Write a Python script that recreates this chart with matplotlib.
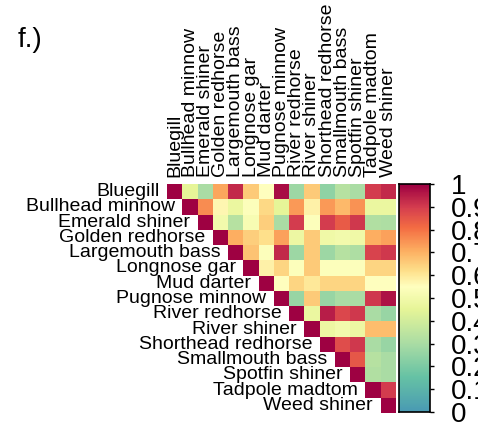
import numpy as np
import matplotlib
matplotlib.use("Agg")
import matplotlib.pyplot as plt
from matplotlib.colors import LinearSegmentedColormap

plt.rcParams['font.family'] = ['Liberation Sans', 'DejaVu Sans']

species = ["Bluegill", "Bullhead minnow", "Emerald shiner", "Golden redhorse",
           "Largemouth bass", "Longnose gar", "Mud darter", "Pugnose minnow",
           "River redhorse", "River shiner", "Shorthead redhorse",
           "Smallmouth bass", "Spotfin shiner", "Tadpole madtom", "Weed shiner"]

# upper-triangle values (row i, columns i+1 .. end)
r0 = [0.45, 0.30, 0.72, 0.93, 0.66, 0.55, 0.98, 0.27, 0.66, 0.24, 0.33, 0.30, 0.90, 0.93]
r1 = [0.76, 0.57, 0.47, 0.54, 0.63, 0.45, 0.74, 0.58, 0.74, 0.69, 0.75, 0.47, 0.47]
r2 = [0.50, 0.33, 0.52, 0.65, 0.30, 0.90, 0.54, 0.90, 0.84, 0.91, 0.32, 0.31]
r3 = [0.71, 0.65, 0.62, 0.73, 0.48, 0.66, 0.49, 0.50, 0.49, 0.71, 0.73]
r4 = [0.67, 0.54, 0.93, 0.27, 0.66, 0.27, 0.33, 0.31, 0.89, 0.91]
r5 = [0.58, 0.64, 0.54, 0.66, 0.54, 0.54, 0.54, 0.64, 0.64]
r6 = [0.55, 0.64, 0.60, 0.64, 0.64, 0.64, 0.55, 0.55]
r7 = [0.26, 0.66, 0.26, 0.30, 0.30, 0.91, 0.97]
r8 = [0.47, 0.95, 0.88, 0.91, 0.30, 0.26]
r9 = [0.48, 0.50, 0.48, 0.68, 0.68]
r10 = [0.87, 0.91, 0.30, 0.26]
r11 = [0.85, 0.33, 0.30]
r12 = [0.32, 0.30]
r13 = [0.90]
upper_rows = [r0, r1, r2, r3, r4, r5, r6, r7, r8, r9, r10, r11, r12, r13]

cbar_ticks = [0, 0.1, 0.2, 0.3, 0.4, 0.5, 0.6, 0.7, 0.8, 0.9, 1]
cbar_labels = ["0", "0.1", "0.2", "0.3", "0.4", "0.5", "0.6", "0.7", "0.8", "0.9", "1"]

n = len(species)
M = np.full((n, n), np.nan)
for i in range(n):
    M[i, i] = 1.0
    for k, v in enumerate(upper_rows[i] if i < len(upper_rows) else []):
        M[i, i + 1 + k] = v
Mm = np.ma.masked_invalid(M)

cmap = LinearSegmentedColormap.from_list("spec", [
    (0.0, "#4a9bb3"), (0.15, "#66c2a5"), (0.30, "#abdda4"), (0.45, "#e6f598"),
    (0.55, "#ffffbf"), (0.62, "#fee08b"), (0.71, "#fdae61"), (0.81, "#f46d43"),
    (0.90, "#d53e4f"), (1.0, "#9e0142")])

W, H = 478, 426
fig = plt.figure(figsize=(W / 100, H / 100), dpi=100)

x0, x1 = 167.3, 395.7
y0, y1 = 184.0, 413.0
ax = fig.add_axes([x0 / W, 1 - y1 / H, (x1 - x0) / W, (y1 - y0) / H])
ax.imshow(Mm, cmap=cmap, vmin=0, vmax=1, aspect='auto', interpolation='nearest')
ax.set_xlim(-0.5, n - 0.5)
ax.set_ylim(n - 0.5, -0.5)
ax.axis('off')

cell = (x1 - x0) / n
off = 7.5 / cell
for i, name in enumerate(species):
    ax.text(i - 0.5 - off, i, name, ha='right', va='center', fontsize=14, color='black')
    ax.text(i, -0.5 - 7 / cell, name, ha='center', va='bottom', rotation=90,
            fontsize=14, color='black')

fig.text(18 / W, 1 - 27 / H, "f.)", ha='left', va='top', fontsize=20)

cax = fig.add_axes([399 / W, 1 - 412 / H, 31 / W, 228 / H])
grad = np.linspace(0, 1, 200).reshape(-1, 1)
cax.imshow(grad, cmap=cmap, vmin=0, vmax=1, aspect='auto', origin='lower',
           extent=[0, 1, 0, 1])
cax.set_xlim(0, 1)
cax.set_ylim(0, 1)
cax.set_xticks([])
cax.yaxis.tick_right()
cax.set_yticks(cbar_ticks)
cax.set_yticklabels(cbar_labels, fontsize=20)
cax.tick_params(axis='y', length=3, width=1, pad=12, direction='out')
for s in cax.spines.values():
    s.set_linewidth(1.2)

fig.savefig("out.png", dpi=100)
